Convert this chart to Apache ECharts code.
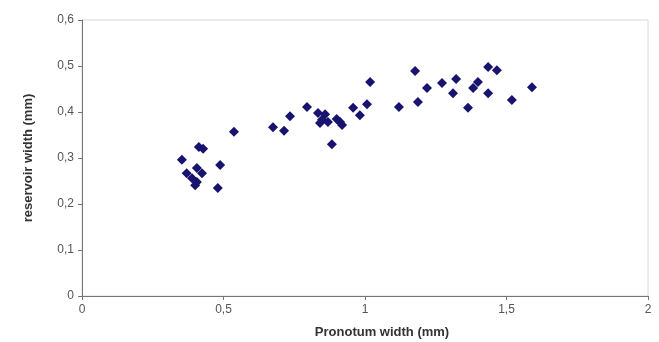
<!DOCTYPE html>
<html><head><meta charset="utf-8">
<script src="https://cdn.jsdelivr.net/npm/echarts@6/dist/echarts.min.js"></script>
<style>html,body{margin:0;padding:0;background:#fff}#c{width:659px;height:342px}</style>
</head><body><div id="c"></div>
<script>
const pronotumWidth = [0.353,0.370,0.389,0.400,0.406,0.406,0.424,0.413,0.428,0.488,0.480,0.537,0.675,0.714,0.735,0.795,0.834,0.859,0.848,0.869,0.841,0.883,0.900,0.912,0.919,0.958,0.982,1.007,1.018,1.120,1.177,1.187,1.219,1.272,1.311,1.322,1.364,1.382,1.399,1.435,1.435,1.466,1.519,1.590];
const reservoirWidth = [0.296,0.267,0.256,0.241,0.248,0.278,0.267,0.324,0.320,0.285,0.235,0.357,0.367,0.359,0.391,0.411,0.398,0.395,0.383,0.378,0.376,0.330,0.385,0.378,0.372,0.409,0.393,0.417,0.465,0.411,0.489,0.422,0.452,0.463,0.441,0.472,0.409,0.452,0.465,0.441,0.498,0.491,0.426,0.454];
const xTicks = ['0','0,5','1','1,5','2'];
const yTicks = ['0','0,1','0,2','0,3','0,4','0,5','0,6'];
const points = pronotumWidth.map((x,i)=>[x,reservoirWidth[i]]);
const chart = echarts.init(document.getElementById('c'));
const fmt = v => String(Math.round(v*10)/10).replace('.',',');
chart.setOption({
  animation:false,
  grid:{left:82,right:11,top:20,bottom:46,outerBoundsMode:'none',containLabel:false,show:true,borderColor:'#d8d8d8',borderWidth:1,backgroundColor:'#fff'},
  xAxis:{type:'value',min:0,max:2,interval:0.5,
    name:'Pronotum width (mm)',nameLocation:'middle',nameGap:30,
    nameTextStyle:{fontFamily:'Liberation Sans',fontWeight:'bold',fontSize:13,color:'#333',padding:[0,0,0,34]},
    axisLine:{show:true,lineStyle:{color:'#777',width:1}},
    axisTick:{show:true,length:4,lineStyle:{color:'#777'}},
    axisLabel:{fontFamily:'Liberation Sans',fontSize:12,color:'#555',margin:8,formatter:fmt},
    splitLine:{show:false}},
  yAxis:{type:'value',min:0,max:0.6,interval:0.1,
    name:'reservoir width (mm)',nameLocation:'middle',nameGap:47,nameRotate:90,
    nameTextStyle:{fontFamily:'Liberation Sans',fontWeight:'bold',fontSize:13,color:'#333'},
    axisLine:{show:true,lineStyle:{color:'#777',width:1}},
    axisTick:{show:true,length:4,lineStyle:{color:'#777'}},
    axisLabel:{fontFamily:'Liberation Sans',fontSize:12,color:'#555',margin:8,formatter:fmt},
    splitLine:{show:false}},
  series:[{type:'scatter',data:points,symbol:'diamond',symbolSize:10,
    itemStyle:{color:'#17136e',opacity:1}}]
});
</script></body></html>
